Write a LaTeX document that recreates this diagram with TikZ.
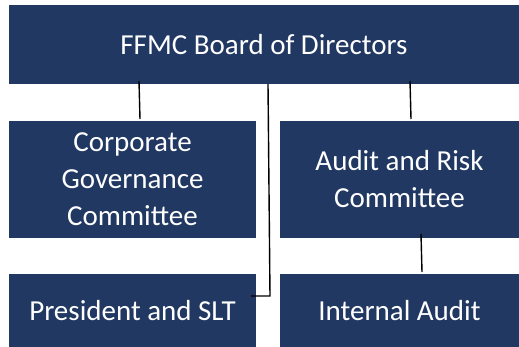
\documentclass[tikz,border=0pt]{standalone}
\usepackage{fontspec}
\setmainfont{Carlito}
\definecolor{navy}{RGB}{33,56,99}
\begin{document}
\begin{tikzpicture}[x=1pt,y=-1pt,
  box/.style={fill=navy,draw=none,text=white,inner sep=0pt,align=center,font=\fontsize{29}{37}\selectfont},
  conn/.style={draw=black,line width=1.4pt}]
\useasboundingbox (0,0) rectangle (519,347);
\fill[white] (0,0) rectangle (519,347);
\node[box,minimum width=510,minimum height=79] (board) at (264,44.5) {FFMC Board of Directors};
\node[box,minimum width=247,minimum height=117] (cgc) at (132.5,179.5) {Corporate\\Governance\\Committee};
\node[box,minimum width=239,minimum height=117] (arc) at (399.5,179.5) {Audit and Risk\\Committee};
\node[box,minimum width=247,minimum height=73] (pres) at (132.5,310.5) {President and SLT};
\node[box,minimum width=239,minimum height=73] (ia) at (399.5,310.5) {Internal Audit};
\coordinate (b1) at (139,81);
\coordinate (c1) at (140,119);
\coordinate (b2) at (410,81);
\coordinate (a2) at (411,119);
\coordinate (b3) at (268,84);
\coordinate (k3) at (270,296);
\coordinate (p3) at (251,296);
\coordinate (a4) at (421,234);
\coordinate (i4) at (422,272);
\draw[conn] (b1) -- (c1);
\draw[conn] (b2) -- (a2);
\draw[conn] (b3) -- (k3) -- (p3);
\draw[conn] (a4) -- (i4);
\end{tikzpicture}
\end{document}
